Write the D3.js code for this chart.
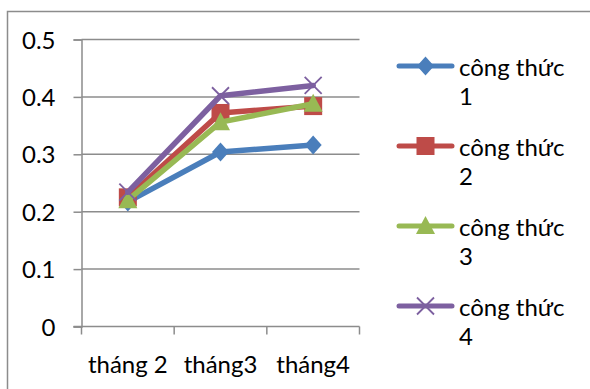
<!DOCTYPE html>
<html>
<head>
<meta charset="utf-8">
<script src="https://cdn.jsdelivr.net/npm/d3@7"></script>
<style>
  html, body { margin: 0; padding: 0; background: #fff; }
  svg { display: block; }
  text { font-family: Lato, "Open Sans", sans-serif; fill: #000; }
</style>
</head>
<body>
<svg id="chart" width="590" height="389"></svg>
<script>
// Months on the x axis
const categories = ["tháng 2", "tháng3", "tháng4"];
// One value per month for each formula
const seriesNames = ["công thức 1", "công thức 2", "công thức 3", "công thức 4"];
const values1 = [0.217, 0.304, 0.316];
const values2 = [0.225, 0.372, 0.384];
const values3 = [0.220, 0.356, 0.388];
const values4 = [0.234, 0.402, 0.420];
const yTicks = [0, 0.1, 0.2, 0.3, 0.4, 0.5];

const colors = ["#4A7EBB", "#BE4B48", "#98B954", "#7D60A0"];
const markers = ["diamond", "square", "triangle", "cross"];
const allValues = [values1, values2, values3, values4];

const FONT = 24;
const svg = d3.select("#chart");

// Outer chart frame
svg.append("rect")
  .attr("x", 7.5).attr("y", 11.5)
  .attr("width", 600).attr("height", 400)
  .attr("fill", "none").attr("stroke", "#8c8c8c").attr("stroke-width", 1.5);

const plot = { left: 81.5, right: 359.5, top: 39.5, bottom: 326.5 };

const x = d3.scaleBand().domain(categories).range([plot.left, plot.right]);
const y = d3.scaleLinear().domain([0, 0.5]).range([plot.bottom, plot.top]);
const cx = c => x(c) + x.bandwidth() / 2;

const axisColor = "#8c8c8c";

// Horizontal gridlines
svg.append("g").selectAll("line").data(yTicks.filter(t => t > 0)).join("line")
  .attr("x1", plot.left).attr("x2", plot.right)
  .attr("y1", d => y(d)).attr("y2", d => y(d))
  .attr("stroke", axisColor).attr("stroke-width", 1.5);

// Y axis
const yAxis = svg.append("g")
  .attr("transform", `translate(${plot.left},0)`)
  .call(d3.axisLeft(y).tickValues(yTicks).tickSize(8).tickPadding(18)
    .tickFormat(d => d === 0 ? "0" : d3.format(".1f")(d)));
yAxis.select(".domain").attr("stroke", axisColor).attr("stroke-width", 1.5);
yAxis.selectAll(".tick line").attr("stroke", axisColor).attr("stroke-width", 1.5);
yAxis.selectAll("text").attr("font-size", FONT).attr("font-family", "Lato, sans-serif")
  .attr("fill", "#000").attr("dy", "0.36em");

// X axis with tick marks on category boundaries
const xg = svg.append("g");
xg.append("line")
  .attr("x1", plot.left - 8).attr("x2", plot.right)
  .attr("y1", plot.bottom).attr("y2", plot.bottom)
  .attr("stroke", axisColor).attr("stroke-width", 1.5);
const bounds = categories.map(c => x(c)).concat([plot.right]);
xg.selectAll("line.tk").data(bounds).join("line").attr("class", "tk")
  .attr("x1", d => d).attr("x2", d => d)
  .attr("y1", plot.bottom).attr("y2", plot.bottom + 8)
  .attr("stroke", axisColor).attr("stroke-width", 1.5);
xg.selectAll("text").data(categories).join("text")
  .attr("x", d => cx(d)).attr("y", 373)
  .attr("text-anchor", "middle").attr("font-size", FONT)
  .text(d => d);

// Marker shapes
function drawMarker(g, type, px, py, color) {
  if (type === "diamond") {
    g.append("path").attr("d", `M${px},${py - 9.5}L${px + 8.5},${py}L${px},${py + 9.5}L${px - 8.5},${py}Z`)
      .attr("fill", color);
  } else if (type === "square") {
    g.append("rect").attr("x", px - 9).attr("y", py - 9).attr("width", 18).attr("height", 18)
      .attr("fill", color);
  } else if (type === "triangle") {
    g.append("path").attr("d", `M${px},${py - 10}L${px + 9.5},${py + 8}L${px - 9.5},${py + 8}Z`)
      .attr("fill", color);
  } else {
    g.append("path").attr("d", `M${px - 8.5},${py - 8.5}L${px + 8.5},${py + 8.5}M${px + 8.5},${py - 8.5}L${px - 8.5},${py + 8.5}`)
      .attr("stroke", color).attr("stroke-width", 1.8).attr("fill", "none");
  }
}

const line = d3.line().x((d, i) => cx(categories[i])).y(d => y(d));

allValues.forEach((vals, s) => {
  const g = svg.append("g");
  g.append("path").datum(vals).attr("d", line)
    .attr("fill", "none").attr("stroke", colors[s]).attr("stroke-width", 5.5)
    .attr("stroke-linejoin", "round").attr("stroke-linecap", "round");
  vals.forEach((v, i) => drawMarker(g, markers[s], cx(categories[i]), y(v), colors[s]));
});

// Legend: name wraps onto two lines
const legend = svg.append("g");
seriesNames.forEach((name, s) => {
  const ly = 66 + s * 80;
  const g = legend.append("g");
  g.append("line").attr("x1", 399).attr("x2", 452).attr("y1", ly).attr("y2", ly)
    .attr("stroke", colors[s]).attr("stroke-width", 5).attr("stroke-linecap", "round");
  drawMarker(g, markers[s], 425.5, ly, colors[s]);
  const parts = name.split(" ");
  g.append("text").attr("x", 459).attr("y", ly + 10).attr("font-size", FONT)
    .text(parts[0] + " " + parts[1]);
  g.append("text").attr("x", 459).attr("y", ly + 39).attr("font-size", FONT)
    .text(parts[2]);
});
</script>
</body>
</html>
